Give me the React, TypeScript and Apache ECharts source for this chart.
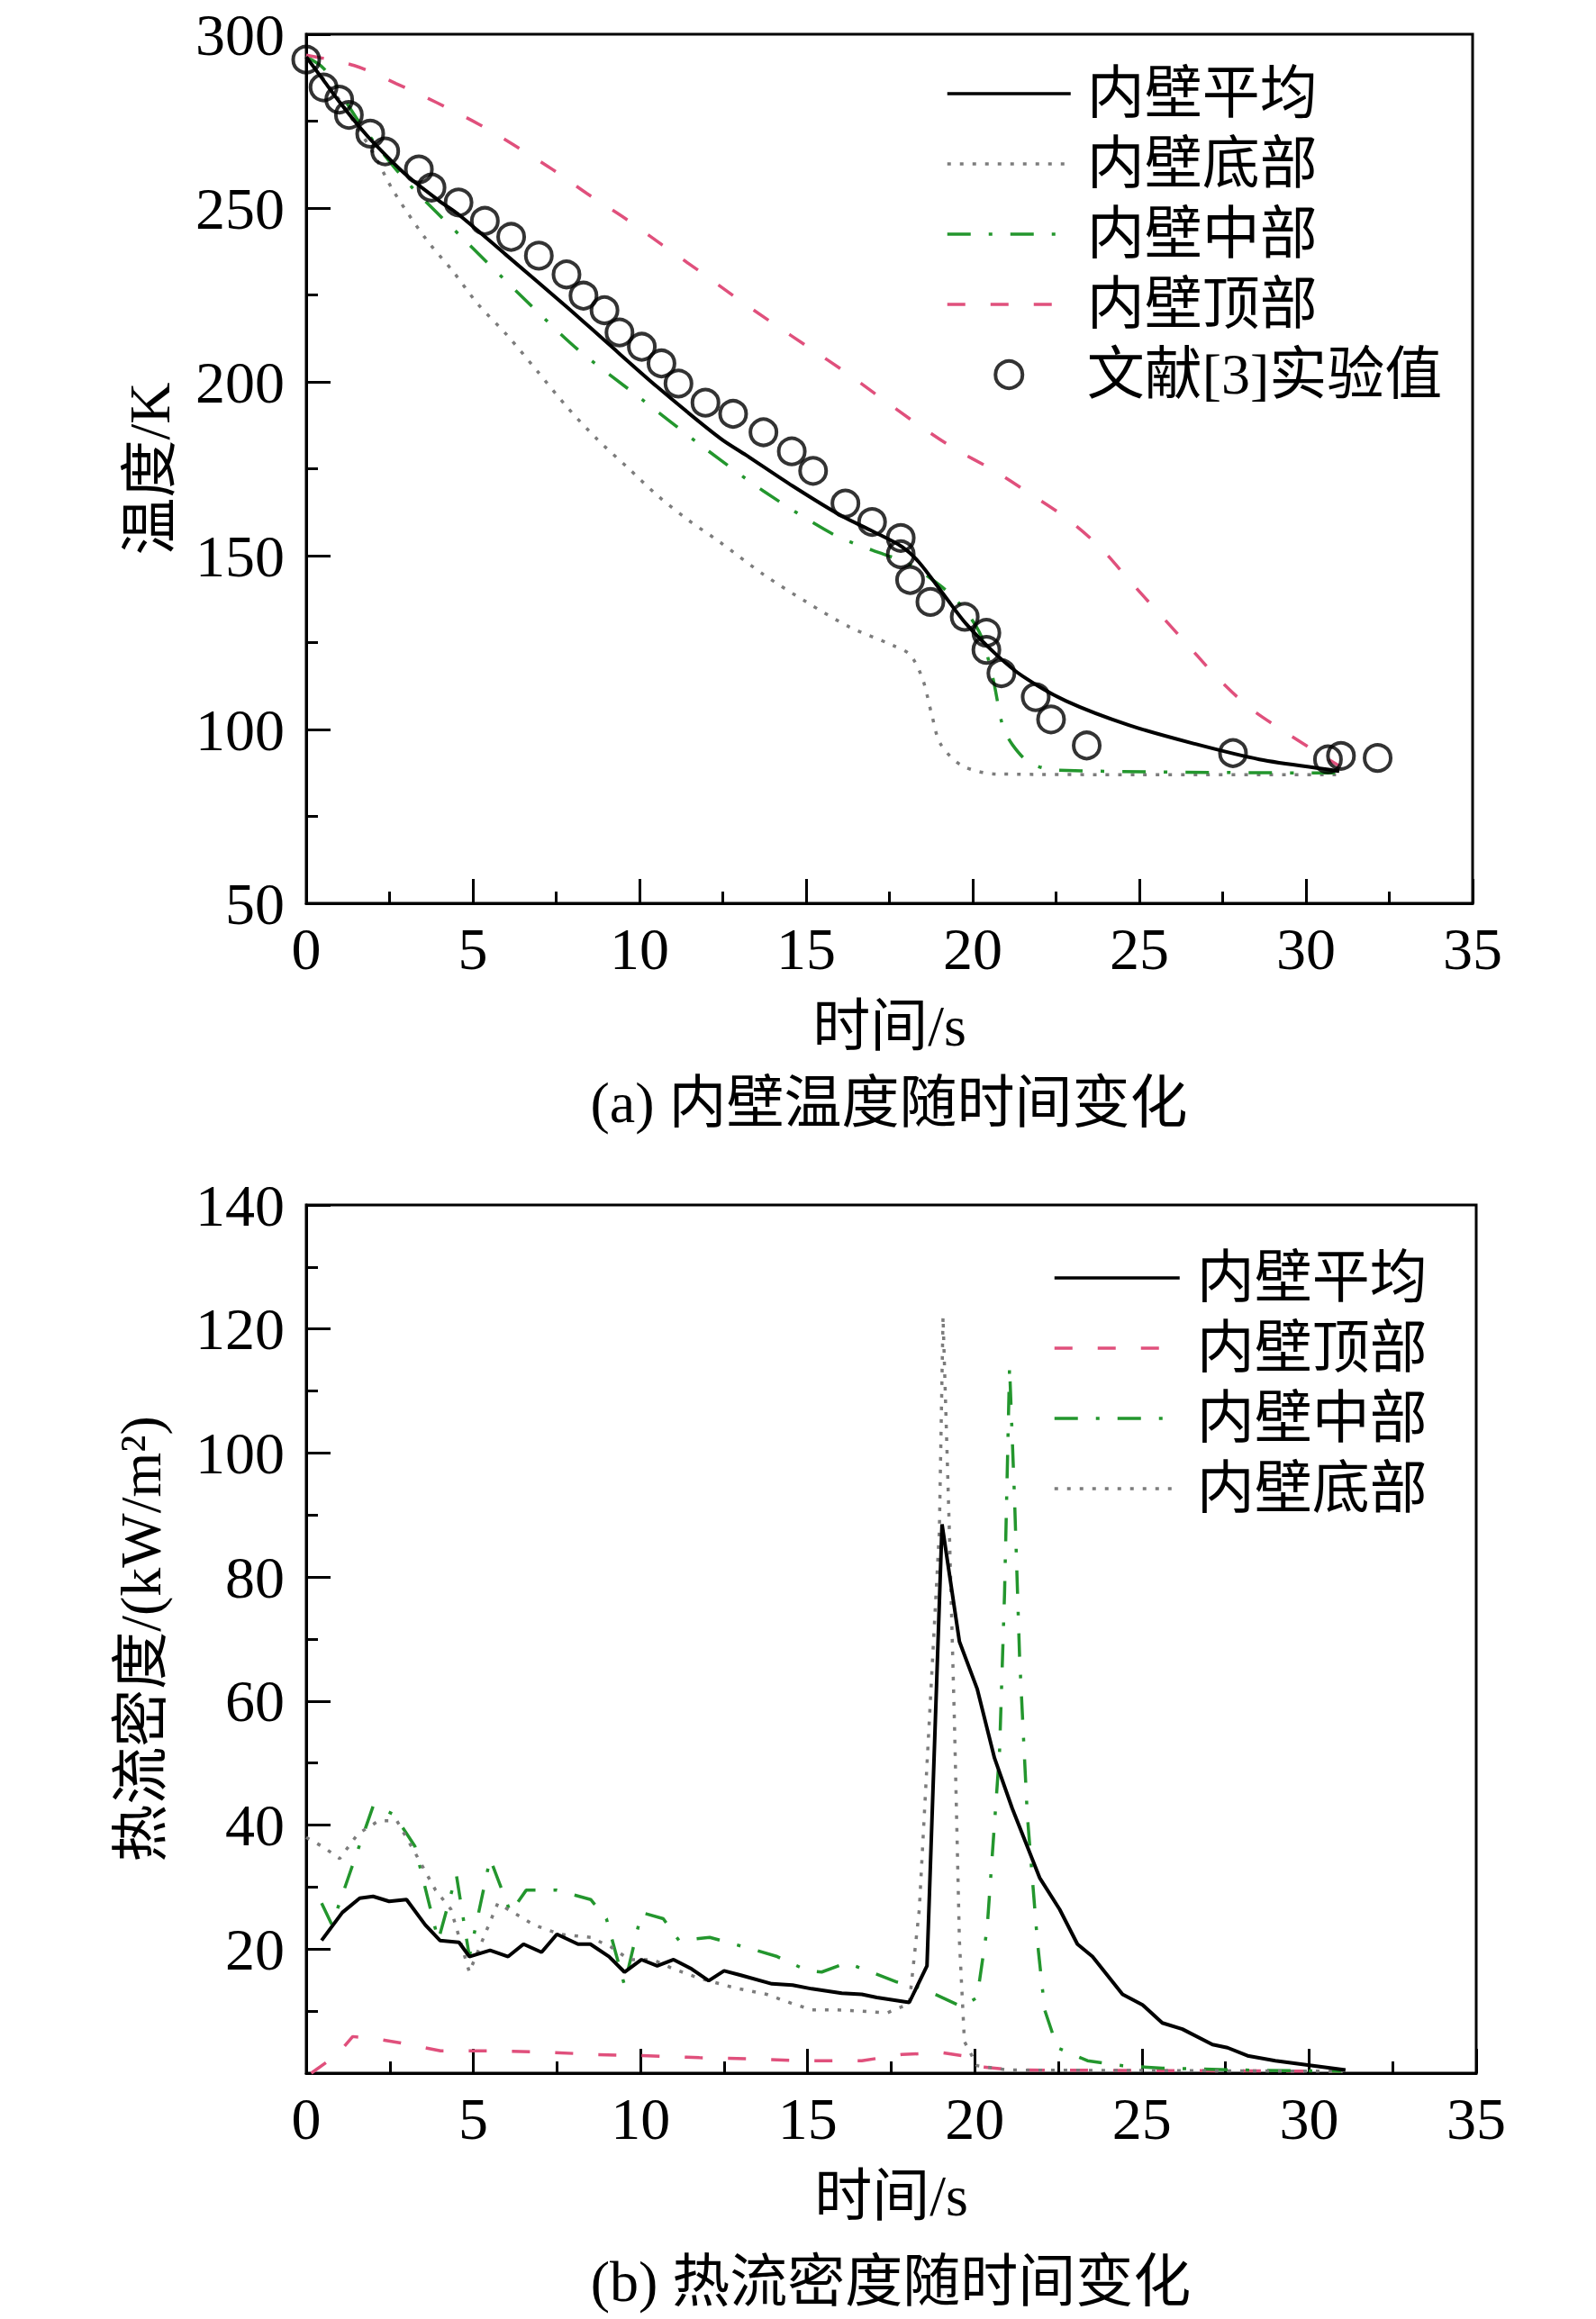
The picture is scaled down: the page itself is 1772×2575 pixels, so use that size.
import React, { useEffect, useRef } from "react";
import * as echarts from "echarts";

// ---------- (a) wall temperature, K ----------
const expTemp: number[][] = [
  [0, 292.7], [0.52, 284.7], [0.99, 281.2], [1.28, 276.8], [1.92, 271.4], [2.37, 266.3],
  [3.38, 261.1], [3.76, 255.9], [4.57, 251.6], [5.36, 246.3], [6.15, 241.7], [6.98, 236.3],
  [7.81, 230.9], [8.32, 224.8], [8.95, 220.6], [9.4, 214.2], [10.07, 210.1], [10.66, 205.3],
  [11.17, 199.5], [11.98, 194], [12.81, 190.8], [13.72, 185.5], [14.57, 180], [15.21, 174.4],
  [16.18, 165], [16.98, 159.7], [17.84, 155.1], [17.84, 150.4], [18.12, 143], [18.73, 136.7],
  [19.76, 132.4], [20.41, 127.8], [20.41, 122.9], [20.86, 116.2], [21.89, 109.3], [22.35, 102.9],
  [23.42, 95.4], [27.81, 93.2], [30.66, 91.4], [31.05, 92.4], [32.15, 91.8],
];
const avgTemp: number[][] = [
  [0, 293.5], [0.5, 287], [1, 280.5], [1.5, 274.5], [2, 269], [3, 259.5], [4, 252], [4.59, 248],
  [6, 236.5], [7.84, 221.4], [9, 211.5], [10.54, 198.5], [12.43, 183.7], [13.2, 178.9],
  [14.6, 170], [16.05, 161.5], [17.0, 157], [17.87, 152.6], [18.38, 148.2], [19.16, 138.4],
  [19.8, 130.4], [20.7, 121.6], [21.5, 115.3], [22.8, 108.2], [24.7, 101.2], [26.65, 95.9],
  [28.6, 91.4], [30.8, 88.3], [31, 88],
];
const botTemp: number[][] = [
  [0, 293.5], [1, 281], [2, 266], [2.61, 255], [3.6, 241], [4.41, 231.7], [5.14, 222.5],
  [6.04, 213.3], [6.94, 203], [7.84, 192.6], [8.74, 183.4], [9.64, 175.4], [10.54, 167.3],
  [11.44, 160.4], [12.4, 154], [13.72, 144.6], [15.02, 136.6], [16.3, 129.5], [17.6, 124.2],
  [18.12, 121.5], [18.5, 114.4], [18.76, 104.7], [19.03, 95.9], [19.68, 89.6], [20.7, 87.2],
  [25, 87], [31, 87],
];
const midTemp: number[][] = [
  [0, 293.5], [0.54, 290], [1.5, 276], [2.2, 267], [3.06, 257.1], [4.73, 241], [6.44, 224.8],
  [8.15, 209.3], [10.0, 195.5], [11.85, 181.7], [13.72, 168.6], [15.8, 156.2], [17, 151.5],
  [18, 148], [18.8, 143], [19.48, 137.5], [20.2, 128], [20.6, 115], [20.9, 101], [21.2, 95.5],
  [21.7, 90.5], [22.5, 88.3], [31, 87.5],
];
const topTemp: number[][] = [
  [0, 294], [1.44, 291], [2.7, 285.8], [3.92, 280.3], [5.18, 274.1], [6.22, 268.2], [7.39, 261.1],
  [8.42, 254.2], [9.59, 246.9], [10.68, 239.4], [11.76, 232.1], [12.84, 224.6], [13.98, 217],
  [15.08, 209.9], [16.18, 202.8], [17.2, 195.7], [18.3, 188.1], [19.48, 180.6], [20.58, 174.8],
  [21.74, 167.7], [22.78, 161], [23.8, 152.6], [24.7, 142.9], [25.62, 133.1], [26.46, 124.2],
  [27.3, 115.3], [28.34, 106], [29.5, 98.5], [30.4, 93], [31, 89.5],
];

// ---------- (b) heat flux, kW/m2 ----------
const avgFlux: number[][] = [
  [0.46, 21.4], [1.08, 25.9], [1.6, 28.2], [2.0, 28.5], [2.48, 27.7], [3.0, 28], [3.56, 23.9],
  [4.0, 21.4], [4.57, 21.1], [4.88, 18.8], [5.5, 19.8], [6.04, 18.8], [6.5, 20.8], [7.04, 19.5],
  [7.5, 22.4], [8.13, 20.8], [8.5, 20.8], [9.06, 18.8], [9.52, 16.3], [10.03, 18.3], [10.5, 17.3],
  [10.99, 18.3], [11.53, 16.8], [12.04, 14.9], [12.5, 16.5], [13.0, 15.8], [13.93, 14.4],
  [14.55, 14.2], [15.12, 13.6], [16.02, 12.9], [16.62, 12.7], [17.07, 12.2], [18.04, 11.4],
  [18.57, 17.3], [19.02, 88.5], [19.54, 69.6], [20.07, 62], [20.59, 50.8], [21.12, 42.7],
  [21.94, 31.5], [22.54, 26.4], [23.07, 20.8], [23.52, 18.8], [24.42, 12.7], [25.02, 11],
  [25.61, 8.1], [26.21, 7.1], [27.11, 4.6], [27.56, 4.1], [28.16, 2.8], [28.99, 2.0],
  [29.96, 1.3], [31.09, 0.5],
];
const topFlux: number[][] = [
  [0.15, 0], [0.93, 3], [1.39, 5.9], [2.01, 5.6], [2.79, 4.9], [4.02, 3.6], [5.57, 3.6],
  [7.12, 3.4], [8.67, 3.0], [10.22, 2.8], [11.76, 2.5], [13.31, 2.3], [14.86, 2.0], [16.62, 2.0],
  [17.82, 3.0], [19.02, 3.3], [19.62, 2.8], [20.22, 1.0], [21.12, 0.5], [31, 0.3],
];
const midFlux: number[][] = [
  [0.46, 27.4], [0.77, 23.9], [1.32, 32.5], [2.01, 43.2], [2.63, 41.7], [3.25, 36.6], [3.95, 21.4],
  [4.49, 32], [4.88, 18.8], [5.5, 34.6], [6.11, 25.9], [6.58, 29.5], [7.5, 29.5], [8.51, 28],
  [8.98, 24.9], [9.52, 14.2], [10.03, 25.9], [10.68, 24.9], [11.15, 21.4], [12.07, 21.9],
  [13.47, 19.8], [14.09, 18.8], [15.0, 16.5], [15.42, 16.3], [16.17, 17.8], [17.67, 14.7],
  [18.42, 13.7], [19.62, 10.7], [20.07, 12.2], [20.37, 23.4], [20.74, 51.8], [20.89, 77.3],
  [21.04, 113.9], [21.19, 92.5], [21.34, 67.1], [21.57, 41.7], [21.87, 21.4], [22.09, 10.2],
  [22.47, 4.1], [23.37, 2], [24.42, 1.2], [25.61, 0.8], [28, 0.5], [31, 0.3],
];
const botFlux: number[][] = [
  [0, 38], [0.5, 36.5], [1.0, 34.6], [1.55, 38.6], [2.17, 40.7], [2.71, 40.7], [3.25, 35.6],
  [3.87, 29.5], [4.33, 26.4], [4.88, 16.3], [5.73, 27.4], [6.35, 25.4], [6.81, 23.9],
  [7.59, 22.4], [8.51, 21.9], [9.13, 20.3], [9.67, 18.3], [10.37, 18.3], [10.99, 16.8],
  [11.76, 15.3], [12.85, 13.7], [13.78, 12.7], [14.55, 11.2], [15.14, 10.2], [15.87, 10.2],
  [16.62, 10], [17.37, 9.7], [18.04, 11.2], [18.34, 26.4], [18.64, 56.9], [18.94, 87.4],
  [19.05, 122], [19.24, 87.4], [19.39, 56.9], [19.54, 21.4], [19.69, 5.1], [20.07, 1.2],
  [21, 0.5], [31, 0.3],
];

const legendTopNames = ["内壁平均", "内壁底部", "内壁中部", "内壁顶部", "文献[3]实验值"];
const legendBottomNames = ["内壁平均", "内壁顶部", "内壁中部", "内壁底部"];
const xTicksMax = 35;

const FONT = "'Liberation Serif', 'Times New Roman', 'Noto Sans CJK SC', serif";
const TICK_FS = 66;
const TEXT_FS = 64;

const styles: Record<string, any> = {
  内壁平均: { color: "#000000", width: 4, type: "solid" },
  内壁底部: { color: "#7c7c7c", width: 3.5, type: [4, 10] },
  内壁中部: { color: "#23962d", width: 3.5, type: [26, 20, 4, 20] },
  内壁顶部: { color: "#e0507c", width: 3.5, type: [20, 28] },
};

function lineSeries(name: string, data: number[][], idx: number, smooth: number) {
  const s = styles[name];
  return {
    type: "line",
    name,
    data,
    xAxisIndex: idx,
    yAxisIndex: idx,
    symbol: "none",
    smooth,
    color: s.color,
    lineStyle: { color: s.color, width: s.width, type: s.type },
    z: name === "内壁平均" ? 4 : 3,
  };
}

function legendItems(names: string[]) {
  return names.map((n) =>
    styles[n]
      ? { name: n, itemStyle: { opacity: 0, borderWidth: 0 } }
      : { name: n, itemStyle: { color: "rgba(255,255,255,0)", borderColor: "#000", borderWidth: 4 } }
  );
}

function xAxisDef(gridIndex: number) {
  return {
    type: "value",
    gridIndex,
    min: 0,
    max: xTicksMax,
    interval: 5,
    name: "时间/s",
    nameLocation: "middle",
    nameGap: 104,
    nameTextStyle: { fontFamily: FONT, fontSize: TEXT_FS, color: "#000" },
    axisLine: { show: true, lineStyle: { color: "#000", width: 3 } },
    axisTick: { show: true, inside: true, length: 27, lineStyle: { color: "#000", width: 3 } },
    minorTick: { show: true, splitNumber: 2, length: 13, lineStyle: { color: "#000", width: 3 } },
    splitLine: { show: false },
    axisLabel: { fontFamily: FONT, fontSize: TICK_FS, lineHeight: 56, color: "#000", margin: 22 },
  };
}

export default function App() {
  const ref = useRef<HTMLDivElement>(null);
  useEffect(() => {
    if (!ref.current) return;
    const chart = echarts.init(ref.current, null, { renderer: "svg" });
    const option: any = {
      animation: false,
      backgroundColor: "#ffffff",
      grid: [
        { left: 340, top: 38, width: 1295, height: 965, show: true, borderColor: "#000", borderWidth: 3, backgroundColor: "transparent" },
        { left: 340, top: 1338, width: 1299, height: 964, show: true, borderColor: "#000", borderWidth: 3, backgroundColor: "transparent" },
      ],
      xAxis: [xAxisDef(0), xAxisDef(1)],
      yAxis: [
        {
          type: "value",
          gridIndex: 0,
          min: 50,
          max: 300,
          interval: 50,
          name: "温度/K",
          nameLocation: "middle",
          nameGap: 142,
          nameTextStyle: { fontFamily: FONT, fontSize: TEXT_FS, color: "#000" },
          axisLine: { show: true, lineStyle: { color: "#000", width: 3 } },
          axisTick: { show: true, inside: true, length: 27, lineStyle: { color: "#000", width: 3 } },
          minorTick: { show: true, splitNumber: 2, length: 13, lineStyle: { color: "#000", width: 3 } },
          splitLine: { show: false },
          axisLabel: { fontFamily: FONT, fontSize: TICK_FS, lineHeight: 56, color: "#000", margin: 24 },
        },
        {
          type: "value",
          gridIndex: 1,
          min: 0,
          max: 140,
          interval: 20,
          name: "热流密度/(kW/m²)",
          nameLocation: "middle",
          nameGap: 152,
          nameTextStyle: { fontFamily: FONT, fontSize: TEXT_FS, color: "#000" },
          axisLine: { show: true, lineStyle: { color: "#000", width: 3 } },
          axisTick: { show: true, inside: true, length: 27, lineStyle: { color: "#000", width: 3 } },
          minorTick: { show: true, splitNumber: 2, length: 13, lineStyle: { color: "#000", width: 3 } },
          splitLine: { show: false },
          axisLabel: {
            fontFamily: FONT,
            fontSize: TICK_FS,
            lineHeight: 56,
            color: "#000",
            margin: 24,
            formatter: (v: number) => (v === 0 ? "" : String(v)),
          },
        },
      ],
      legend: [
        {
          data: legendItems(legendTopNames),
          orient: "vertical",
          left: 1045,
          top: 67,
          itemWidth: 137,
          itemHeight: 30,
          itemGap: 14,
          selectedMode: false,
          lineStyle: { width: 3.5 },
          textStyle: { fontFamily: FONT, fontSize: TEXT_FS, lineHeight: 62, color: "#000", padding: [0, 0, 0, 13] },
        },
        {
          data: legendItems(legendBottomNames),
          orient: "vertical",
          left: 1164,
          top: 1382,
          itemWidth: 139,
          itemHeight: 30,
          itemGap: 14,
          selectedMode: false,
          lineStyle: { width: 3.5 },
          textStyle: { fontFamily: FONT, fontSize: TEXT_FS, lineHeight: 62, color: "#000", padding: [0, 0, 0, 14] },
        },
      ],
      graphic: [
        {
          type: "text",
          x: 987,
          y: 1224,
          style: { text: "(a) 内壁温度随时间变化", font: `${TEXT_FS}px ${FONT}`, fill: "#000", align: "center", verticalAlign: "middle" },
        },
        {
          type: "text",
          x: 989,
          y: 2533,
          style: { text: "(b) 热流密度随时间变化", font: `${TEXT_FS}px ${FONT}`, fill: "#000", align: "center", verticalAlign: "middle" },
        },
      ],
      series: [
        lineSeries("内壁平均", avgTemp, 0, 0.3),
        lineSeries("内壁底部", botTemp, 0, 0.3),
        lineSeries("内壁中部", midTemp, 0, 0.3),
        lineSeries("内壁顶部", topTemp, 0, 0.3),
        {
          type: "scatter",
          name: "文献[3]实验值",
          data: expTemp,
          xAxisIndex: 0,
          yAxisIndex: 0,
          symbol: "circle",
          symbolSize: 29,
          itemStyle: { color: "rgba(255,255,255,0)", borderColor: "#000", borderWidth: 4 },
          z: 5,
        },
        lineSeries("内壁平均", avgFlux, 1, 0),
        lineSeries("内壁顶部", topFlux, 1, 0),
        lineSeries("内壁中部", midFlux, 1, 0),
        lineSeries("内壁底部", botFlux, 1, 0),
      ],
    };
    chart.setOption(option);
    return () => chart.dispose();
  }, []);
  return <div ref={ref} style={{ position: "absolute", left: 0, top: 0, width: 1772, height: 2575 }} />;
}
